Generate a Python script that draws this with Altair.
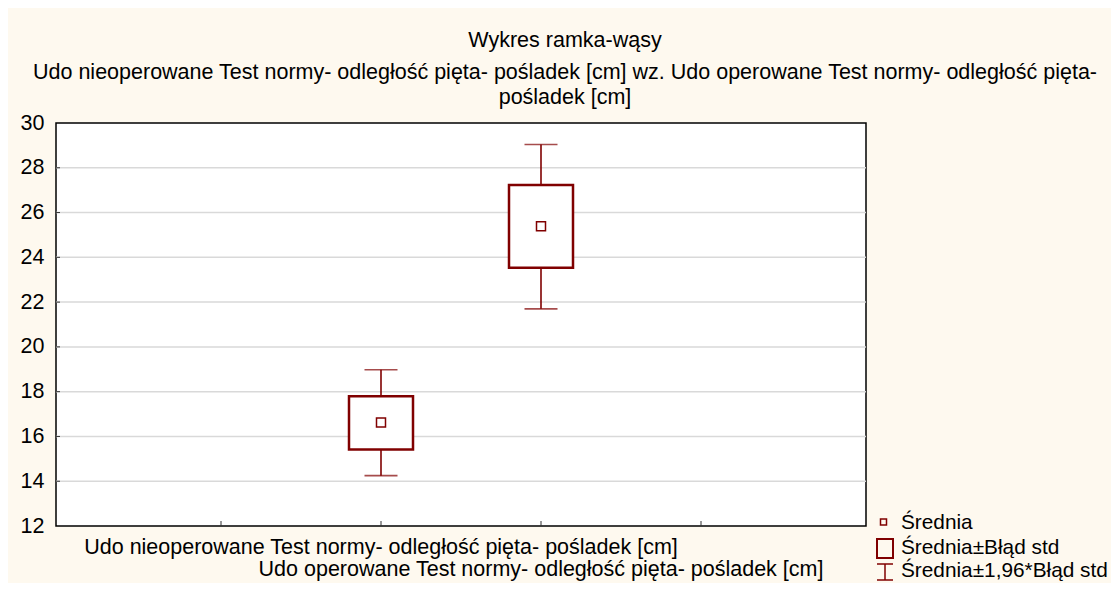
import altair as alt
import pandas as pd

# ---- data ----
categories = [
    "Udo nieoperowane Test normy- odległość pięta- pośladek [cm]",
    "Udo operowane Test normy- odległość pięta- pośladek [cm]",
]
cat_pos = [2, 3]
means = [16.62, 25.39]
se_low = [15.42, 23.54]
se_high = [17.79, 27.23]
ci_low = [14.25, 21.70]
ci_high = [18.98, 29.04]

y_ticks = [12, 14, 16, 18, 20, 22, 24, 26, 28, 30]
x_ticks = [1, 2, 3, 4]
legend_labels = ["Średnia", "Średnia±Błąd std", "Średnia±1,96*Błąd std"]

title_text = "Wykres ramka-wąsy"
subtitle_lines = [
    "Udo nieoperowane Test normy- odległość pięta- pośladek [cm] wz. Udo operowane Test normy- odległość pięta-",
    "pośladek [cm]",
]

df = pd.DataFrame({
    "cat": categories, "pos": cat_pos, "mean": means,
    "se_lo": se_low, "se_hi": se_high, "ci_lo": ci_low, "ci_hi": ci_high,
})
xt = pd.DataFrame({"t": x_ticks})
yt = pd.DataFrame({"v": y_ticks[1:-1]})
leg = pd.DataFrame({"label": legend_labels, "i": [0, 1, 2]})

DARK = "#800000"
FONT = "Liberation Sans"
FS = 21.5
LFS = 20.8

xs = alt.Scale(domain=[0, 5], nice=False, zero=False)
ys = alt.Scale(domain=[12, 30], nice=False, zero=False)

base = alt.Chart(df)

grid = alt.Chart(yt).mark_rule(color="#D9D9D9", strokeWidth=1.5).encode(
    y=alt.Y("v:Q", scale=ys,
            axis=alt.Axis(values=y_ticks, grid=False, ticks=False, domain=False,
                          labelFontSize=FS, labelFont=FONT, labelColor="black",
                          labelPadding=12, title=None)),
    x=alt.value(0), x2=alt.value(810),
)
ytick_marks = alt.Chart(yt).mark_rule(color="#333333", strokeWidth=1).encode(
    y=alt.Y("v:Q", scale=ys), x=alt.value(0), x2=alt.value(4),
)
xtick_marks = alt.Chart(xt).mark_rule(color="#333333", strokeWidth=1).encode(
    x=alt.X("t:Q", scale=xs, axis=None), y=alt.value(403), y2=alt.value(398),
)

whisk = base.mark_rule(color=DARK, strokeWidth=1.6).encode(
    x=alt.X("pos:Q", scale=xs, axis=None),
    y=alt.Y("ci_lo:Q", scale=ys), y2="ci_hi:Q",
)
cap_hi = base.mark_tick(color=DARK, size=33, thickness=1.6, orient="horizontal").encode(
    x=alt.X("pos:Q", scale=xs), y=alt.Y("ci_hi:Q", scale=ys),
)
cap_lo = base.mark_tick(color=DARK, size=33, thickness=1.6, orient="horizontal").encode(
    x=alt.X("pos:Q", scale=xs), y=alt.Y("ci_lo:Q", scale=ys),
)
box = base.mark_bar(size=64, fill="white", stroke=DARK, strokeWidth=2.5).encode(
    x=alt.X("pos:Q", scale=xs), y=alt.Y("se_lo:Q", scale=ys), y2="se_hi:Q",
)
mean_pt = base.mark_point(shape="square", size=81, filled=False, color=DARK,
                          strokeWidth=1.5, opacity=1).encode(
    x=alt.X("pos:Q", scale=xs), y=alt.Y("mean:Q", scale=ys),
)

xlab1 = base.transform_filter(alt.datum.pos == cat_pos[0]).mark_text(
    font=FONT, fontSize=FS, color="black", baseline="middle", align="center"
).encode(x=alt.X("pos:Q", scale=xs), y=alt.value(425), text="cat:N")
xlab2 = base.transform_filter(alt.datum.pos == cat_pos[1]).mark_text(
    font=FONT, fontSize=FS, color="black", baseline="middle", align="center"
).encode(x=alt.X("pos:Q", scale=xs), y=alt.value(447), text="cat:N")

# ---- legend ----
legc = alt.Chart(leg)
def leg_text(i, y):
    return legc.transform_filter(alt.datum.i == i).mark_text(
        font=FONT, fontSize=LFS, color="black", align="left", baseline="middle"
    ).encode(x=alt.value(845), y=alt.value(y), text="label:N")

leg_sq = legc.transform_filter(alt.datum.i == 0).mark_point(
    shape="square", size=36, filled=False, color=DARK, strokeWidth=1.5, opacity=1
).encode(x=alt.value(827.5), y=alt.value(399))
leg_box = legc.transform_filter(alt.datum.i == 1).mark_rect(
    fill="transparent", stroke=DARK, strokeWidth=2
).encode(x=alt.value(821), x2=alt.value(837), y=alt.value(416), y2=alt.value(435))
leg_w = legc.transform_filter(alt.datum.i == 2).mark_rule(color=DARK, strokeWidth=1.5).encode(
    x=alt.value(829), y=alt.value(441), y2=alt.value(457))
leg_c1 = legc.transform_filter(alt.datum.i == 2).mark_rule(color=DARK, strokeWidth=1.5).encode(
    x=alt.value(821), x2=alt.value(837), y=alt.value(441))
leg_c2 = legc.transform_filter(alt.datum.i == 2).mark_rule(color=DARK, strokeWidth=1.5).encode(
    x=alt.value(821), x2=alt.value(837), y=alt.value(457))

chart = alt.layer(
    grid, ytick_marks, xtick_marks, whisk, cap_hi, cap_lo, box, mean_pt,
    xlab1, xlab2,
    leg_sq, leg_box, leg_w, leg_c1, leg_c2,
    leg_text(0, 400), leg_text(1, 425), leg_text(2, 448),
).properties(
    width=810, height=403,
    title=alt.Title(
        text=title_text, subtitle=subtitle_lines,
        anchor="middle", frame="group", dx=104, offset=4,
        font=FONT, fontSize=FS, fontWeight="normal", color="black",
        subtitleFont=FONT, subtitleFontSize=FS, subtitleColor="black",
        subtitleLineHeight=25, subtitlePadding=10,
    ),
    autosize=alt.AutoSizeParams(type="none"),
    padding={"left": 48, "top": 115, "right": 245, "bottom": 57},
    background="#FEF9EF",
).configure_view(
    stroke="black", strokeWidth=1.5, fill="white"
)

chart.save("out.html", embed_options={"renderer": "svg", "actions": False})
